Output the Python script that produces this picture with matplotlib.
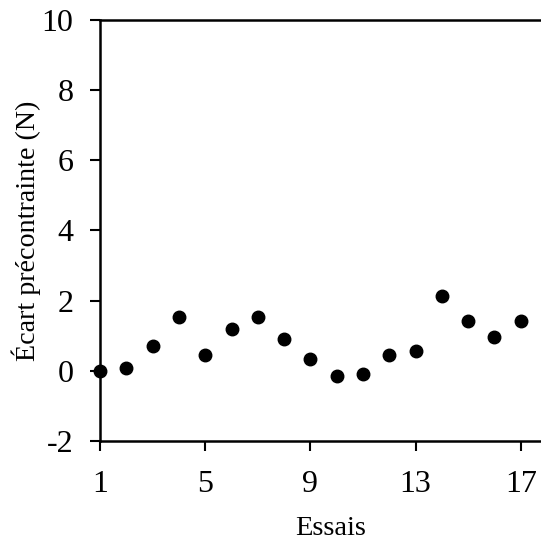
import matplotlib
matplotlib.use("Agg")
import matplotlib.pyplot as plt
from matplotlib import font_manager

essais = list(range(1, 18))
ecart = [0.0, 0.07, 0.70, 1.53, 0.46, 1.19, 1.53, 0.90, 0.34, -0.15, -0.10, 0.46, 0.57, 2.13, 1.41, 0.97, 1.41]
xticks = [1, 5, 9, 13, 17]
yticks = [-2, 0, 2, 4, 6, 8, 10]

available = {f.name for f in font_manager.fontManager.ttflist}
fam = None
for cand in ['Liberation Serif', 'Times New Roman', 'Nimbus Roman', 'TeX Gyre Termes', 'STIXGeneral']:
    if cand in available:
        fam = cand
        break
plt.rcParams['font.family'] = [fam or 'serif', 'DejaVu Serif']

W, H = 541, 544
fig = plt.figure(figsize=(W / 100, H / 100), dpi=100)
left, right_px, top, bottom = 100, 562, 19.7, 441
ax = fig.add_axes([left / W, 1 - bottom / H, (right_px - left) / W, (bottom - top) / H])

ax.plot(essais, ecart, 'o', color='black', markersize=9, clip_on=False, zorder=5)
ax.set_xlim(1, 1 + (right_px - left) / 26.3)
ax.set_ylim(-2, 10)
ax.set_xticks(xticks)
ax.set_yticks(yticks)
ax.set_yticklabels([str(v) for v in yticks])
for s in ['left', 'bottom', 'top']:
    ax.spines[s].set_linewidth(1.8)
ax.spines['right'].set_visible(False)
ax.tick_params(axis='both', direction='out', length=7, width=1.5, labelsize=23, colors='black')
ax.tick_params(axis='x', pad=14)
ax.tick_params(axis='y', pad=12)
ax.set_xlabel('Essais', fontsize=20.5, labelpad=12)
ax.set_ylabel('Écart précontrainte (N)', fontsize=20.2, labelpad=0.5)

fig.savefig('out.png', dpi=100)
